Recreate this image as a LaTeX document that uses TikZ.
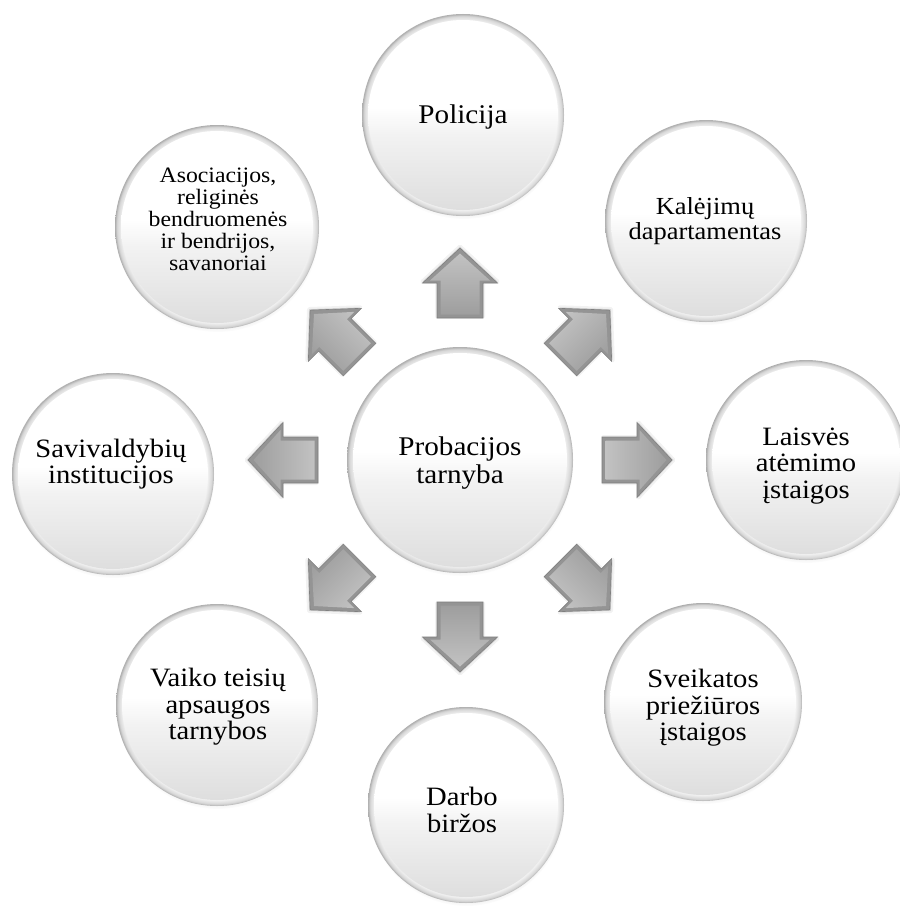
\documentclass[tikz,border=0pt]{standalone}
\usepackage{fontspec}
\setmainfont{Liberation Serif}[FakeStretch=1.08]
\usetikzlibrary{shadows,fadings}

\pgfdeclareradialshading{rimshade}{\pgfpoint{0bp}{0bp}}{color(0bp)=(white); color(21bp)=(white); color(23.4bp)=(black!5); color(24.5bp)=(black!16); color(25bp)=(black!32); color(50bp)=(black!32)}
\pgfdeclareverticalshading{discshade}{100bp}{color(0bp)=(black!13); color(25bp)=(black!13); color(45bp)=(black!5); color(52bp)=(white); color(100bp)=(white)}
\pgfdeclareverticalshading{arrshade}{100bp}{color(0bp)=(black!38); color(25bp)=(black!38); color(75bp)=(black!24); color(100bp)=(black!24)}

\tikzset{
  bubble/.style={circle, inner sep=0pt, shading=rimshade,
    circular drop shadow={shadow xshift=0.5pt, shadow yshift=-3pt, opacity=0.3, shadow scale=1.0}},
  lbl/.style={align=center, inner sep=0pt, text=black, font=\fontsize{26.5pt}{26.5pt}\selectfont},
  lblmid/.style={lbl, font=\fontsize{24.5pt}{24.5pt}\selectfont},
  lblsmall/.style={lbl, font=\fontsize{22pt}{22pt}\selectfont},
  lblbig/.style={lbl, font=\fontsize{27pt}{28pt}\selectfont},
  arrface/.style={fill=black!42, draw=black!50, line width=0.6pt, line join=miter},
  arrinner/.style={shading=arrshade},
  arrshadow/.style={fill=black, opacity=0.10, draw=black, draw opacity=0.05, line width=4pt, line join=round},
}

\newcommand\mybubble[4]{%
  \node[bubble, minimum size=#4*2pt] (#1) at (#2,#3) {};
  \shade[shading=discshade] (#1.center) circle[radius=#4pt-6pt];
}

\newcommand\myarrow[2]{%
  \begin{scope}[shift={(460,460)}, rotate=#1]
    \path[arrshadow] [xshift=1.5pt]
      (142,-23) -- (177,-23) -- (177,-37.5) -- (212,0) -- (177,37.5) -- (177,23) -- (142,23) -- cycle;
    \path[arrface]
      (142,-23) -- (177,-23) -- (177,-37.5) -- (212,0) -- (177,37.5) -- (177,23) -- (142,23) -- cycle;
    \path[arrinner, shading angle=#2]
      (145.5,-19.5) -- (179.5,-19.5) -- (179.5,-30) -- (206.5,0) -- (179.5,30) -- (179.5,19.5) -- (145.5,19.5) -- cycle;
  \end{scope}
}

\begin{document}
\begin{tikzpicture}[x=1pt, y=-1pt]
  \useasboundingbox[fill=white] (0,0) rectangle (899,907);

  % arrows
  \myarrow{0}{90}
  \myarrow{45}{45}
  \myarrow{90}{0}
  \myarrow{135}{-45}
  \myarrow{180}{-90}
  \myarrow{225}{-135}
  \myarrow{270}{180}
  \myarrow{315}{135}

  % circles
  \mybubble{prob}{460}{460}{113}
  \mybubble{pol}{463}{115}{101}
  \mybubble{kal}{706}{221}{101}
  \mybubble{lai}{806}{460}{100}
  \mybubble{sve}{703}{702}{99}
  \mybubble{dar}{466}{805}{98}
  \mybubble{vai}{217}{705}{101}
  \mybubble{sav}{113}{474}{101}
  \mybubble{aso}{217}{227}{102}

  % labels
  \node[lblbig] (probT) at (460,463) {Probacijos\\tarnyba};
  \node[lblbig] (polT) at (463,117) {Policija};
  \node[lblmid] (kalT) at (705,221) {Kalėjimų\\dapartamentas};
  \node[lbl] (laiT) at (806,466) {Laisvės\\atėmimo\\įstaigos};
  \node[lbl] (sveT) at (703,708) {Sveikatos\\priežiūros\\įstaigos};
  \node[lbl] (darT) at (462,810) {Darbo\\biržos};
  \node[lbl] (vaiT) at (218,707) {Vaiko teisių\\apsaugos\\tarnybos};
  \node[lbl] (savT) at (111,464) {Savivaldybių\\institucijos};
  \node[lblsmall] (asoT) at (218,219) {Asociacijos,\\religinės\\bendruomenės\\ir bendrijos,\\savanoriai};
\end{tikzpicture}
\end{document}
